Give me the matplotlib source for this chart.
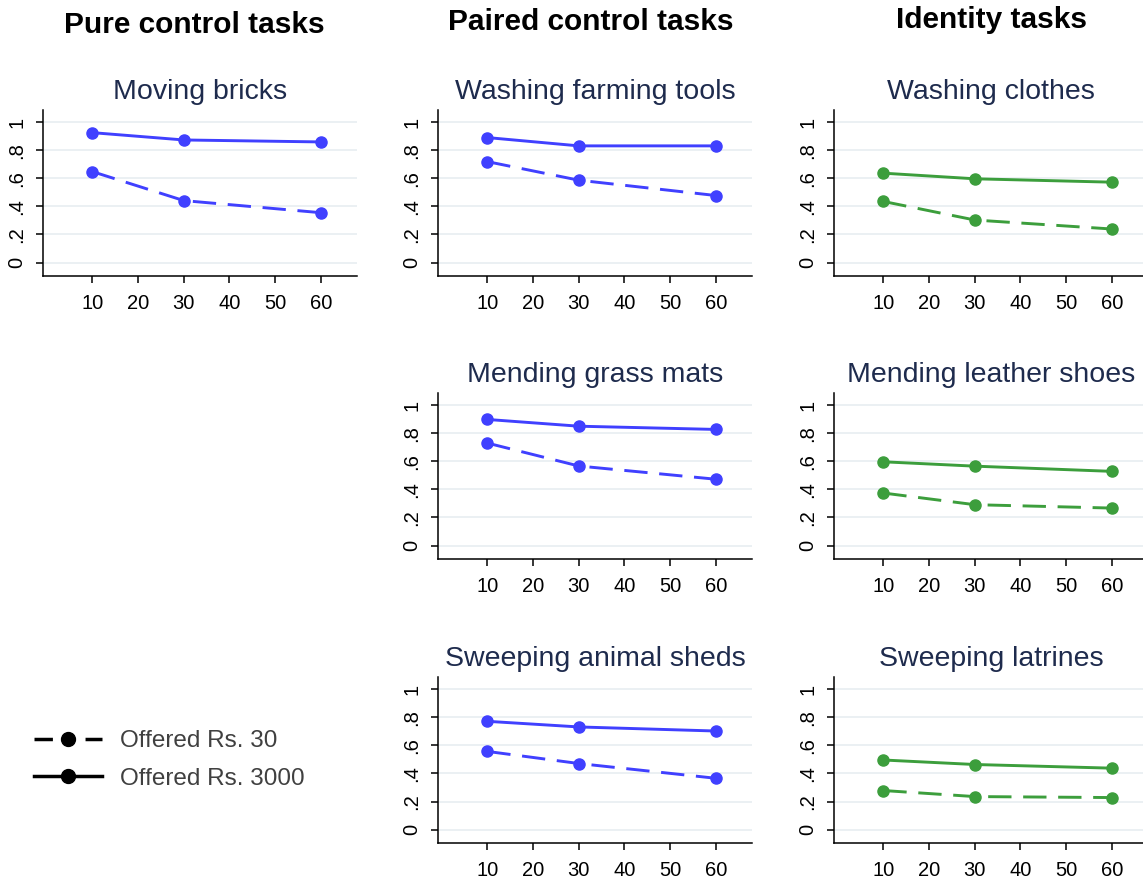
import numpy as np
import matplotlib
matplotlib.use("Agg")
import matplotlib.pyplot as plt
from matplotlib.lines import Line2D

plt.rcParams["font.family"] = ["Liberation Sans", "DejaVu Sans"]

# ---------- data ----------
minutes = [10, 30, 60]

col_headers = ["Pure control tasks", "Paired control tasks", "Identity tasks"]

panel_titles = ["Moving bricks", "Washing farming tools", "Washing clothes",
                "Mending grass mats", "Mending leather shoes",
                "Sweeping animal sheds", "Sweeping latrines"]
panel_pos = [(0, 0), (0, 1), (0, 2), (1, 1), (1, 2), (2, 1), (2, 2)]

# share taking the task, offered Rs. 3000
high_pay = [
    [0.924, 0.872, 0.858],
    [0.889, 0.830, 0.830],
    [0.636, 0.596, 0.572],
    [0.897, 0.849, 0.826],
    [0.596, 0.565, 0.528],
    [0.770, 0.730, 0.701],
    [0.495, 0.463, 0.437],
]
# share taking the task, offered Rs. 30
low_pay = [
    [0.647, 0.441, 0.355],
    [0.718, 0.586, 0.477],
    [0.435, 0.303, 0.239],
    [0.729, 0.566, 0.472],
    [0.374, 0.291, 0.267],
    [0.556, 0.470, 0.365],
    [0.278, 0.235, 0.228],
]

yticks = [0, 0.2, 0.4, 0.6, 0.8, 1.0]
ytick_labels = ["0", ".2", ".4", ".6", ".8", "1"]
xticks = [10, 20, 30, 40, 50, 60]

BLUE = "#4040ff"
GREEN = "#3c9e3c"
TITLE_COLOR = "#1e2b4d"
GRID_COLOR = "#e9eff2"

# ---------- layout (pixels -> figure fraction) ----------
W, H = 1143, 882
col_left = [43, 438, 834]
row_top = [110, 393, 677]
ax_w, ax_h = 314, 166

fig = plt.figure(figsize=(W / 100, H / 100), dpi=100)

for i, title in enumerate(panel_titles):
    r, c = panel_pos[i]
    color = GREEN if c == 2 else BLUE
    left = col_left[c] / W
    bottom = (H - row_top[r] - ax_h) / H
    ax = fig.add_axes([left, bottom, ax_w / W, ax_h / H])

    ax.plot(minutes, high_pay[i], color=color, lw=2.1, marker="o", ms=8)
    ax.plot(minutes, low_pay[i], color=color, lw=2.1, marker="o", ms=8,
            linestyle=(0, (8, 4)))

    ax.set_xlim(-0.8, 67.9)
    ax.set_ylim(-0.095, 1.085)
    ax.set_xticks(xticks)
    ax.set_yticks(yticks)
    ax.set_yticklabels(ytick_labels, rotation=90, va="center")
    ax.tick_params(axis="both", labelsize=14.5, direction="out", width=1.1,
                   length=5, color="black")
    ax.tick_params(axis="x", pad=8)
    ax.tick_params(axis="y", pad=7)
    ax.grid(axis="y", color=GRID_COLOR, lw=1.3)
    ax.set_axisbelow(True)
    for s in ["top", "right"]:
        ax.spines[s].set_visible(False)
    for s in ["left", "bottom"]:
        ax.spines[s].set_linewidth(1.1)
    ax.set_title(title, fontsize=20.5, color=TITLE_COLOR, pad=8)

# ---------- column headers ----------
header_x = [194, 591, 991]
header_y = [25, 22, 20]
for hx, hy, txt in zip(header_x, header_y, col_headers):
    fig.text(hx / W, 1 - hy / H, txt, ha="center", va="center",
             fontsize=21.5, fontweight="bold", color="black")

# ---------- legend ----------
handles = [
    Line2D([], [], color="black", lw=2.5, marker="o", ms=10,
           linestyle=(0, (5.3, 9.4))),
    Line2D([], [], color="black", lw=2.5, marker="o", ms=10),
]
fig.legend(handles, ["Offered Rs. 30", "Offered Rs. 3000"],
           loc="center left", bbox_to_anchor=(12 / W, 1 - 760 / H),
           frameon=False, fontsize=17.5, handlelength=2.8, handletextpad=0.75,
           labelspacing=0.65, labelcolor="#404040")

fig.savefig("out.png", dpi=100)
